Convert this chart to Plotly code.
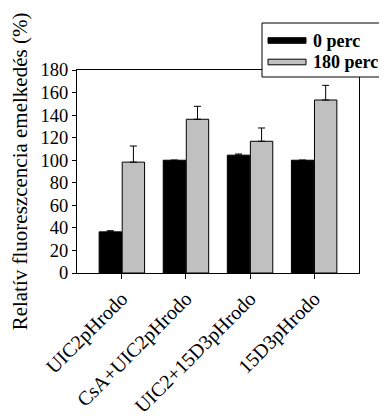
import plotly.graph_objects as go

categories = ["UIC2pHrodo", "CsA+UIC2pHrodo", "UIC2+15D3pHrodo", "15D3pHrodo"]
series_names = ["0 perc", "180 perc"]
values_0 = [36.5, 100, 104.5, 100]
errors_0 = [1.0, 0, 1.0, 0]
values_180 = [98.3, 136.3, 116.8, 153.4]
errors_180 = [14.3, 11.5, 11.8, 13.0]
colors = ["#000000", "#C0C0C0"]
y_ticks = [0, 20, 40, 60, 80, 100, 120, 140, 160, 180]
y_title = "Relatív fluoreszcencia emelkedés (%)"

FONT = "Liberation Serif, Times New Roman, serif"

# the page body adds an 8px offset; geometry below is compensated for it
PW, PH = 282, 203  # plot area size in px
L0, T0 = 77, 70     # plot area top-left in window px

fig = go.Figure()
for name, vals, errs, col in [(series_names[0], values_0, errors_0, colors[0]),
                              (series_names[1], values_180, errors_180, colors[1])]:
    fig.add_trace(go.Bar(
        x=categories, y=vals, name=name,
        marker=dict(color=col, line=dict(color="black", width=1)),
        error_y=dict(type="data", symmetric=False, array=errs,
                     arrayminus=[0] * len(errs), color="black",
                     thickness=1, width=3.5),
        showlegend=False,
    ))

def px_x(wx):
    return (wx - L0) / PW

def px_y(wy):
    return (T0 + PH - wy) / PH

# manual legend (wide swatches like the reference)
fig.add_shape(type="rect", xref="paper", yref="paper",
              x0=px_x(262), x1=px_x(381), y0=px_y(77), y1=px_y(23),
              line=dict(color="black", width=1), fillcolor="white", layer="above")
for i, (name, col) in enumerate(zip(series_names, colors)):
    yc = 40.5 + i * 21.5
    fig.add_shape(type="rect", xref="paper", yref="paper",
                  x0=px_x(268), x1=px_x(306),
                  y0=px_y(yc + 2.8), y1=px_y(yc - 2.8),
                  line=dict(color="black", width=1), fillcolor=col, layer="above")
    fig.add_annotation(xref="paper", yref="paper",
                       x=px_x(311), y=px_y(yc),
                       text="<b>%s</b>" % name, showarrow=False,
                       xanchor="left", yanchor="middle",
                       font=dict(family=FONT, size=18, color="black"))

fig.update_layout(
    width=379, height=412,
    margin=dict(l=69, r=28, t=62, b=147),
    paper_bgcolor="white", plot_bgcolor="white",
    barmode="group", bargap=0.28, bargroupgap=0.03,
    font=dict(family=FONT, size=18, color="black"),
)
fig.update_xaxes(
    type="category", range=[-0.7, 3.7], automargin=False,
    showline=True, linecolor="black", linewidth=1, mirror=True,
    ticks="outside", ticklen=5, tickcolor="black",
    tickangle=-45, tickfont=dict(family=FONT, size=20),
    showgrid=False,
)
fig.update_yaxes(
    range=[0, 180], tickvals=y_ticks, automargin=False,
    showline=True, linecolor="black", linewidth=1, mirror=True,
    ticks="outside", ticklen=4, tickcolor="black",
    tickfont=dict(family=FONT, size=18.5),
    showgrid=False, zeroline=False,
    title=dict(text=y_title, font=dict(family=FONT, size=21), standoff=10),
)

fig.write_html("out.html")
